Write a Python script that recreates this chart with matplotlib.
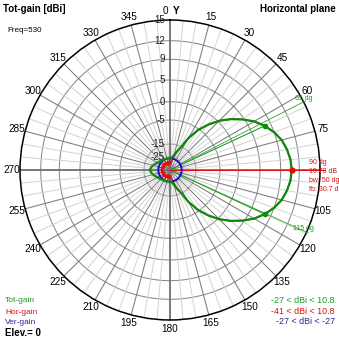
import numpy as np
import matplotlib
matplotlib.use("Agg")
import matplotlib.pyplot as plt
from matplotlib import font_manager

# ---------------------------------------------------------------- data
# azimuth in degrees, clockwise from the Y axis
AZIMUTH = list(range(0, 360, 5))

TOT_GAIN = [
    -27.0, -26.5, -25.5, -23.5, -20.0, -16.5, -10.5, -5.5, -2.5, 0.3,
    2.5, 4.6, 6.4, 7.8, 9.0, 9.8, 10.3, 10.65, 10.78, 10.65,
    10.3, 9.8, 9.0, 7.8, 6.4, 4.6, 2.5, 0.3, -2.5, -5.5,
    -10.5, -16.5, -20.0, -23.5, -25.5, -26.5, -27.0, -27.0, -27.0, -26.9,
    -26.8, -26.7, -26.5, -26.2, -25.8, -25.4, -25.0, -24.5, -24.0, -23.3,
    -22.5, -21.6, -20.8, -20.1, -19.9, -20.1, -20.8, -21.6, -22.5, -23.3,
    -24.0, -24.5, -25.0, -25.4, -25.8, -26.2, -26.5, -26.7, -26.8, -26.9,
    -27.0, -27.0,
]

HOR_GAIN = [
    -33.0, -38.0, -31.0, -26.0, -21.0, -16.5, -10.5, -5.5, -2.5, 0.3,
    2.5, 4.6, 6.4, 7.8, 9.0, 9.8, 10.3, 10.65, 10.78, 10.65,
    10.3, 9.8, 9.0, 7.8, 6.4, 4.6, 2.5, 0.3, -2.5, -5.5,
    -10.5, -16.5, -21.0, -26.0, -31.0, -38.0, -33.0, -30.0, -36.0, -31.0,
    -41.0, -32.0, -30.0, -37.0, -31.0, -35.0, -30.0, -33.0, -38.0, -31.0,
    -34.0, -30.0, -36.0, -31.0, -33.0, -31.0, -36.0, -30.0, -34.0, -31.0,
    -38.0, -33.0, -30.0, -35.0, -31.0, -37.0, -30.0, -32.0, -41.0, -31.0,
    -36.0, -30.0,
]

VER_GAIN = [-27.0] * len(AZIMUTH)

PEAK_AZ = 90
PEAK_GAIN = 10.78
HALF_POWER_AZ = [65, 115]
HALF_POWER_GAIN = 7.78
BEAMWIDTH = 50
FRONT_BACK = 30.7
FREQ = 530
ELEV = 0

RING_VALUES = [12, 9, 5, 0, -5, -15, -25]
RING_LABELS = ["15", "12", "9", "5", "0", "-5", "-15", "-25"]
GAIN_MAX = 15

# ---------------------------------------------------------------- radial scale
SCALE_DB = np.array([-25, -15, -5, 0, 5, 9, 12, 15], float)
SCALE_R = np.array([13.3, 26, 50, 68.3, 90, 110.7, 129.3, 150], float)
K_LOW = np.log(SCALE_R[1] / SCALE_R[0]) / 10.0
K_HIGH = (SCALE_R[-1] - SCALE_R[-2]) / 3.0


def fwd(g):
    g = np.asarray(g, float)
    out = np.interp(g, SCALE_DB, SCALE_R)
    low = g < SCALE_DB[0]
    out = np.where(low, SCALE_R[0] * np.exp((g - SCALE_DB[0]) * K_LOW), out)
    high = g > SCALE_DB[-1]
    out = np.where(high, SCALE_R[-1] + (g - SCALE_DB[-1]) * K_HIGH, out)
    return out


def inv(r):
    r = np.asarray(r, float)
    out = np.interp(r, SCALE_R, SCALE_DB)
    rr = np.maximum(r, 1e-12)
    out = np.where(r < SCALE_R[0], SCALE_DB[0] + np.log(rr / SCALE_R[0]) / K_LOW, out)
    out = np.where(r > SCALE_R[-1], SCALE_DB[-1] + (r - SCALE_R[-1]) / K_HIGH, out)
    return out


# ---------------------------------------------------------------- fonts
_names = {f.name for f in font_manager.fontManager.ttflist}
SANS = "Liberation Sans" if "Liberation Sans" in _names else "DejaVu Sans"

W = H = 339
fig = plt.figure(figsize=(W / 100, H / 100), dpi=100, facecolor="white")


def fx(x):
    return x / W


def fy(y):
    return 1 - y / H


CX, CY, R = 170, 170, 150
ax = fig.add_axes([fx(CX - R), fy(CY + R), 2 * R / W, 2 * R / H], projection="polar")
ax.set_theta_zero_location("N")
ax.set_theta_direction(-1)
ax.set_rscale("function", functions=(fwd, inv))
R_MIN = -120
ax.set_rlim(R_MIN, GAIN_MAX)
ax.set_xticks([])
ax.set_yticks([])
ax.grid(False)
ax.set_facecolor("white")
ax.spines["polar"].set_color("black")
ax.spines["polar"].set_linewidth(1.1)

# ---------------------------------------------------------------- grid
full = np.linspace(0, 2 * np.pi, 721)
for v in RING_VALUES:
    ax.plot(full, np.full_like(full, v), color="#8a8a8a", lw=0.75, zorder=1)

for a in range(0, 360, 5):
    t = np.deg2rad(a)
    if a % 90 == 0:
        ax.plot([t, t], [R_MIN, GAIN_MAX], color="#6e6e6e", lw=1.3, zorder=1.5)
    elif a % 15 == 0:
        ax.plot([t, t], [R_MIN, GAIN_MAX], color="#7c7c7c", lw=0.75, zorder=1.2)
    else:
        ax.plot([t, t], [-25, GAIN_MAX], color="#d2d2d2", lw=0.7, zorder=1.1)

# ring values along the north spoke
for lab in RING_LABELS:
    v = float(lab)
    ax.annotate(lab, xy=(0, v), xytext=(-5, 0), textcoords="offset pixels",
                ha="right", va="center", fontsize=7, family=SANS,
                color="#202020", zorder=3, annotation_clip=False)

# azimuth labels
for a in range(15, 360, 15):
    if a == 90:
        continue
    t = np.deg2rad(a)
    dx, dy = 8.5 * np.sin(t), 8.5 * np.cos(t)
    ax.annotate(str(a), xy=(t, GAIN_MAX), xytext=(dx, dy), textcoords="offset pixels",
                ha="center", va="center", fontsize=7.2, family=SANS,
                color="black", annotation_clip=False)
ax.annotate("0", xy=(0, GAIN_MAX), xytext=(-4.5, 8.5), textcoords="offset pixels",
            ha="center", va="center", fontsize=7.2, family=SANS, annotation_clip=False)
ax.annotate("Y", xy=(0, GAIN_MAX), xytext=(6, 8.5), textcoords="offset pixels",
            ha="center", va="center", fontsize=7.2, family=SANS, weight="bold",
            annotation_clip=False)

# ---------------------------------------------------------------- patterns
theta = np.deg2rad(AZIMUTH + [AZIMUTH[0] + 360])


def closed(vals):
    return list(vals) + [vals[0]]


GREEN = "#0b8a0b"
RED = "#e01010"
BLUE = "#1010c8"

ax.plot(theta, closed(HOR_GAIN), color=RED, lw=1.0, zorder=4)
ax.plot(theta, closed(VER_GAIN), color=BLUE, lw=1.4, zorder=4.5)
ax.plot(theta, closed(TOT_GAIN), color=GREEN, lw=1.6, zorder=5)

# beamwidth markers
LABEL_TILT = {65: 63.0, 115: 114.5}
for az in HALF_POWER_AZ:
    t = np.deg2rad(az)
    ax.plot([t, t], [R_MIN, HALF_POWER_GAIN], color=GREEN, lw=0.6, zorder=3)
    ax.plot([t], [HALF_POWER_GAIN], "o", color=GREEN, ms=3, zorder=6)
    tl = np.deg2rad(LABEL_TILT[az])
    ax.plot([tl, tl], [R_MIN, float(inv(152))], color="#2aa82a", lw=0.6, zorder=3,
            clip_on=False)

fig.text(fx(295), fy(98.5), f"{HALF_POWER_AZ[0]} dg", color="#1f9a1f",
         fontsize=5.0, family=SANS, ha="left", va="center")
fig.text(fx(293), fy(228.5), f"{HALF_POWER_AZ[1]} dg", color="#1f9a1f",
         fontsize=5.0, family=SANS, ha="left", va="center")

# peak marker
tp = np.deg2rad(PEAK_AZ)
ax.plot([tp, tp], [R_MIN, float(inv(155))], color=RED, lw=0.7, zorder=3, clip_on=False)
ax.plot([tp], [PEAK_GAIN], "o", color=RED, ms=3.5, zorder=6)

peak_lines = [f"{PEAK_AZ} dg", f"{PEAK_GAIN} dB", f"bw: {BEAMWIDTH} dg", f"fb: {FRONT_BACK} dB"]
for txt, y in zip(peak_lines, [162.3, 171.7, 181.0, 189.3]):
    fig.text(fx(309), fy(y), txt, color=RED, fontsize=5.0, family=SANS,
             ha="left", va="center")

# ---------------------------------------------------------------- header / legend
fig.text(fx(3), fy(9), "Tot-gain [dBi]", fontsize=7.0, weight="bold", family=SANS,
         ha="left", va="center")
fig.text(fx(260), fy(9.5), "Horizontal plane", fontsize=7.0, weight="bold", family=SANS,
         ha="left", va="center")
fig.text(fx(7), fy(31), f"Freq={FREQ}", fontsize=5.8, family=SANS, ha="left", va="center")

fig.text(fx(5), fy(301), "Tot-gain", color="#1f9a1f", fontsize=6.0, family=SANS,
         ha="left", va="center")
fig.text(fx(5), fy(312), "Hor-gain", color=RED, fontsize=6.0, family=SANS,
         ha="left", va="center")
fig.text(fx(5), fy(323), "Ver-gain", color="#2a2a8a", fontsize=6.0, family=SANS,
         ha="left", va="center")
fig.text(fx(5), fy(332.5), f"Elev.= {ELEV}", color="black", fontsize=7.0, weight="bold",
         family=SANS, ha="left", va="center")


def fmt(v):
    return f"{v:g}"


ranges = [
    (f"{fmt(min(TOT_GAIN))} < dBi < {max(TOT_GAIN):.1f}", "#1f9a1f", 300.5),
    (f"{fmt(min(HOR_GAIN))} < dBi < {max(HOR_GAIN):.1f}", RED, 311.0),
    (f"{fmt(min(VER_GAIN))} < dBi < {fmt(max(VER_GAIN))}", "#2a2a8a", 322.0),
]
for txt, col, y in ranges:
    fig.text(fx(335), fy(y), txt, color=col, fontsize=6.4, family=SANS,
             ha="right", va="center")

fig.savefig("out.png", dpi=100, facecolor="white")
